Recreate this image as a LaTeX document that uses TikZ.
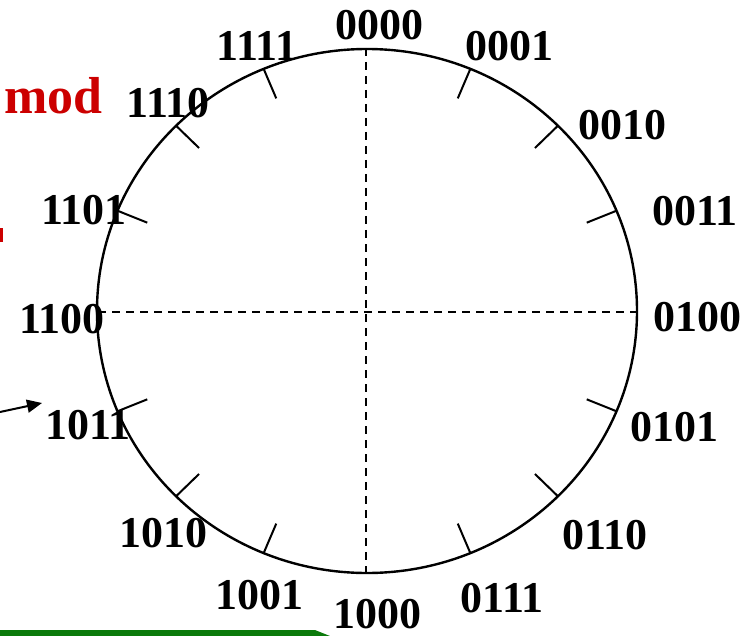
\documentclass[tikz,border=0pt]{standalone}
\usepackage{fontspec}
\setmainfont{Liberation Serif}
\usetikzlibrary{arrows.meta,calc}
\definecolor{modred}{HTML}{CC0000}
\definecolor{barcol}{HTML}{0B7A0B}

\begin{document}
\begin{tikzpicture}[x=1pt,y=-1pt,>={Triangle[length=15pt,width=13pt]},
  lbl/.style={font=\fontsize{44}{44}\selectfont\bfseries,inner sep=0pt},
  tick/.style={line width=2pt},
  axis/.style={line width=1.8pt,dash pattern=on 8pt off 6pt}]
\useasboundingbox (0,0) rectangle (754,636);
\coordinate (c) at (367,311);
% ring and the two axes
\draw[axis] (366,48) -- (366,573);
\draw[axis] (98,312) -- (639,312);
\draw[line width=2.4pt] (c) ellipse [x radius=270,y radius=262];
% ticks, every 22.5 degrees
\foreach \i in {1,2,3,5,6,7,9,10,11,13,14,15}{
  \coordinate (t\i) at ({367+270*sin(22.5*\i)},{311-262*cos(22.5*\i)});
  \draw[tick] (t\i) -- ($(t\i)!32pt!(c)$);
}
% labels
\node[lbl] (n0000) at (379,25) {0000};
\node[lbl] (n0001) at (509,46) {0001};
\node[lbl] (n0010) at (622,125) {0010};
\node[lbl] (n0011) at (695,211) {0011};
\node[lbl] (n0100) at (697,317) {0100};
\node[lbl] (n0101) at (674,427) {0101};
\node[lbl] (n0110) at (605,535) {0110};
\node[lbl] (n0111) at (502,598) {0111};
\node[lbl] (n1000) at (377,614) {1000};
\node[lbl] (n1001) at (259,595) {1001};
\node[lbl] (n1010) at (163,533) {1010};
\node[lbl] (n1011) at (88,425) {1011};
\node[lbl] (n1100) at (62,319) {1100};
\node[lbl] (n1101) at (84,210) {1101};
\node[lbl] (n1110) at (168,103) {1110};
\node[lbl] (n1111) at (257,46) {1111};
% left margin
\node[font=\fontsize{52}{52}\selectfont\bfseries,text=modred,inner sep=0pt,anchor=base west] (mod) at (4,114) {mod};
\fill[modred] (0,228) rectangle (3,242);
\coordinate (arrtail) at (0,412);
\coordinate (arrtip) at (42,403);
\draw[->,line width=2pt] (arrtail) -- (arrtip);
\fill[barcol] (0,630) -- (315,630) -- (330,636) -- (0,636) -- cycle;
\end{tikzpicture}
\end{document}
